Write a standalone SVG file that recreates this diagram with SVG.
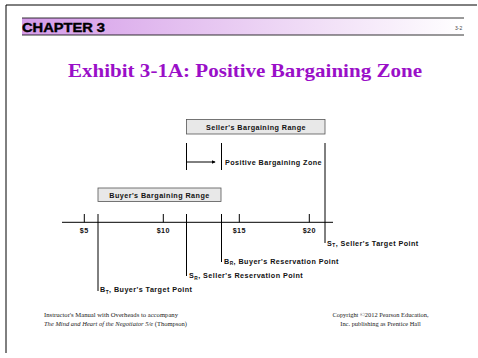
<svg xmlns="http://www.w3.org/2000/svg" width="478" height="358" viewBox="0 0 478 358">
<defs>
<linearGradient id="hdr" x1="0" y1="0" x2="1" y2="0">
<stop offset="0" stop-color="#d49be8"/>
<stop offset="0.55" stop-color="#ecd3f4"/>
<stop offset="1" stop-color="#ffffff"/>
</linearGradient>
<marker id="arr" viewBox="0 0 6 6" refX="5" refY="3" markerWidth="4" markerHeight="4" orient="auto">
<path d="M0,0 L6,3 L0,6 z" fill="#000"/>
</marker>
<style>
.lbl{font-family:"Liberation Sans",Arial,sans-serif;font-weight:bold;font-size:7.2px;letter-spacing:0.45px;fill:#111}
.box{fill:#e8e8e8;stroke:#555;stroke-width:0.8}
.ln{stroke:#000;stroke-width:1;fill:none}
.foot{font-family:"Liberation Serif","Times New Roman",serif;font-size:6.4px;fill:#222}
</style>
</defs>
<rect width="478" height="358" fill="#fff"/>
<g id="page">
<path d="M6,353 V5 H477" class="ln"/>
<rect x="22" y="18" width="442" height="17" fill="url(#hdr)"/>
<line x1="22" y1="18" x2="464" y2="18" stroke="#000" stroke-width="0.8"/>
<line x1="22" y1="35" x2="464" y2="35" stroke="#000" stroke-width="0.8"/>
<text x="22" y="31.5" font-family="'Liberation Sans',Arial,sans-serif" font-weight="900" font-size="12.5" textLength="83" lengthAdjust="spacingAndGlyphs" fill="#000" stroke="#000" stroke-width="0.4">CHAPTER 3</text>
<text x="455" y="30" font-family="'Liberation Sans',Arial,sans-serif" font-size="5" fill="#444">3-2</text>
<text x="245" y="77" text-anchor="middle" font-family="'Liberation Serif','Times New Roman',serif" font-weight="bold" font-size="19.5" fill="#9a0fc8" textLength="354" lengthAdjust="spacingAndGlyphs">Exhibit 3-1A: Positive Bargaining Zone</text>
</g>
<g id="seller-range">
<rect class="box" x="186.5" y="119.5" width="138.5" height="14.5"/>
<text class="lbl" x="256" y="129.5" text-anchor="middle">Seller's Bargaining Range</text>
</g>
<g id="buyer-range">
<rect class="box" x="98" y="188" width="123" height="13.5"/>
<text class="lbl" x="159.5" y="197.5" text-anchor="middle">Buyer's Bargaining Range</text>
</g>
<g id="axis">
<line class="ln" x1="62" y1="222.3" x2="333" y2="222.3"/>
<line class="ln" x1="84.3" y1="214" x2="84.3" y2="222.3"/>
<line class="ln" x1="163.3" y1="214" x2="163.3" y2="222.3"/>
<line class="ln" x1="239.3" y1="214" x2="239.3" y2="222.3"/>
<line class="ln" x1="309.3" y1="214" x2="309.3" y2="222.3"/>
<text class="lbl" x="84.3" y="233.3" text-anchor="middle">$5</text>
<text class="lbl" x="163.3" y="233.3" text-anchor="middle">$10</text>
<text class="lbl" x="239.3" y="233.3" text-anchor="middle">$15</text>
<text class="lbl" x="309.3" y="233.3" text-anchor="middle">$20</text>
</g>
<g id="connectors">
<line class="ln" x1="186.5" y1="143" x2="186.5" y2="170"/>
<line class="ln" x1="221.5" y1="143" x2="221.5" y2="170"/>
<line class="ln" x1="186.5" y1="162" x2="215" y2="162" stroke-width="0.8" marker-end="url(#arr)"/>
<line class="ln" x1="325" y1="143" x2="325" y2="243"/>
<line class="ln" x1="98" y1="214" x2="98" y2="291"/>
<line class="ln" x1="186.5" y1="214" x2="186.5" y2="276"/>
<line class="ln" x1="221.5" y1="214" x2="221.5" y2="262"/>
</g>
<g id="pbz">
<text class="lbl" x="225" y="164.7">Positive Bargaining Zone</text>
</g>
<g id="st">
<text class="lbl" x="327" y="245.5">S<tspan font-size="4.8" dy="1.6">T</tspan><tspan dy="-1.6">, Seller's Target Point</tspan></text>
</g>
<g id="br">
<text class="lbl" x="224" y="263.5">B<tspan font-size="4.8" dy="1.6">R</tspan><tspan dy="-1.6">, Buyer's Reservation Point</tspan></text>
</g>
<g id="sr">
<text class="lbl" x="189" y="278">S<tspan font-size="4.8" dy="1.6">R</tspan><tspan dy="-1.6">, Seller's Reservation Point</tspan></text>
</g>
<g id="bt">
<text class="lbl" x="100" y="292">B<tspan font-size="4.8" dy="1.6">T</tspan><tspan dy="-1.6">, Buyer's Target Point</tspan></text>
</g>
<g id="footer">
<text class="foot" x="44" y="317" textLength="134" lengthAdjust="spacingAndGlyphs">Instructor's Manual with Overheads to accompany</text>
<text class="foot" x="44" y="325.5" textLength="143" lengthAdjust="spacingAndGlyphs"><tspan font-style="italic">The Mind and Heart of the Negotiator 5/e</tspan> (Thompson)</text>
<text class="foot" x="380.5" y="317" text-anchor="middle">Copyright ©2012 Pearson Education,</text>
<text class="foot" x="380.5" y="325.5" text-anchor="middle">Inc. publishing as Prentice Hall</text>
</g>
</svg>
